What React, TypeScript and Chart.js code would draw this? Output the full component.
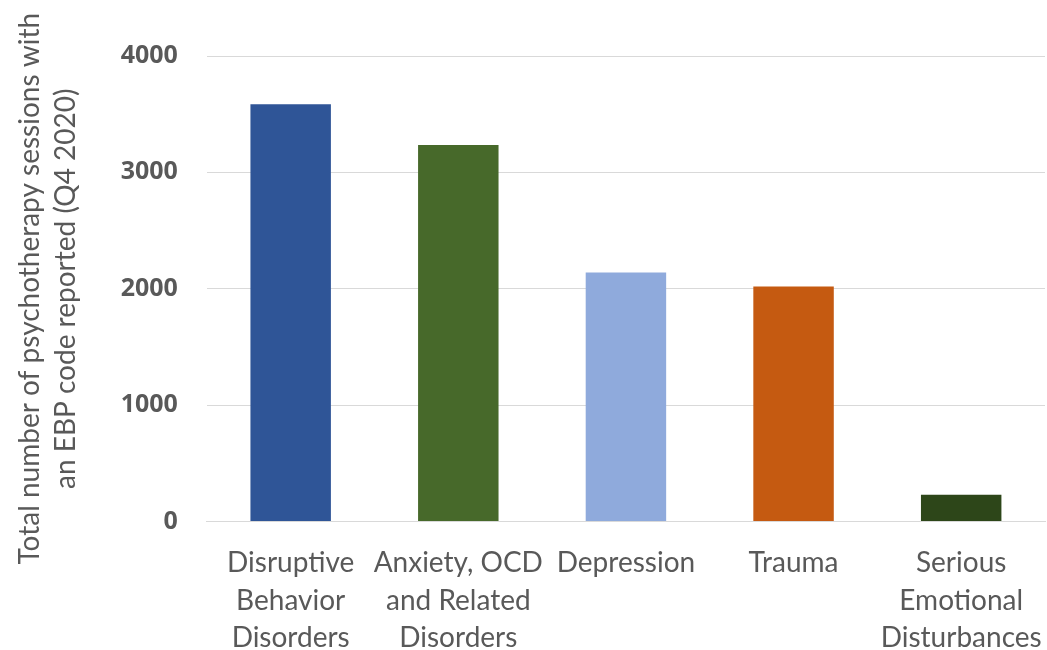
import React, { useEffect, useRef } from "react";
import { Chart, registerables } from "chart.js";

Chart.register(...registerables);

const categories: string[][] = [
  ["Disruptive", "Behavior", "Disorders"],
  ["Anxiety, OCD", "and Related", "Disorders"],
  ["Depression"],
  ["Trauma"],
  ["Serious", "Emotional", "Disturbances"],
];
const sessions: number[] = [3585, 3235, 2140, 2020, 230];
const barColors: string[] = ["#2F5597", "#47692A", "#8FAADC", "#C55A11", "#2D4619"];
const yTicks: number[] = [0, 1000, 2000, 3000, 4000];
const yTitle: string[] = ["Total number of psychotherapy sessions with", "an EBP code reported (Q4 2020)"];

export default function App() {
  const ref = useRef<HTMLCanvasElement | null>(null);
  useEffect(() => {
    document.body.style.margin = "0";
    if (!ref.current) return;
    const chart = new Chart(ref.current, {
      type: "bar",
      data: {
        labels: categories,
        datasets: [
          {
            data: sessions,
            backgroundColor: barColors,
            categoryPercentage: 1,
            barPercentage: 0.48,
          },
        ],
      },
      options: {
        responsive: false,
        animation: false,
        maintainAspectRatio: false,
        layout: { padding: { top: 56, right: 2, left: 12, bottom: -22 } },
        plugins: { legend: { display: false }, tooltip: { enabled: false } },
        scales: {
          x: {
            grid: { display: false },
            border: { color: "#D9D9D9", width: 1 },
            afterFit: (axis: any) => {
              axis.paddingRight = 0;
              axis.paddingLeft = 0;
            },
            ticks: {
              color: "#595959",
              font: { family: "Lato", size: 28, lineHeight: 1.34 },
              maxRotation: 0,
              autoSkip: false,
              padding: 15,
            },
          },
          y: {
            min: 0,
            max: 4000,
            afterBuildTicks: (axis: any) => {
              axis.ticks = yTicks.map((v) => ({ value: v }));
            },
            grid: { color: "#D9D9D9", drawTicks: false },
            border: { display: false },
            ticks: {
              color: "#595959",
              font: { family: "Open Sans", size: 25, weight: "bold" },
              padding: 29,
              callback: (v: any) => String(v),
            },
            title: {
              display: true,
              text: yTitle,
              color: "#595959",
              font: { family: "Lato", size: 28, lineHeight: 1.28 },
              padding: { top: 0, bottom: 8 },
            },
          },
        },
      },
    });
    return () => chart.destroy();
  }, []);
  return (
    <div style={{ position: "absolute", left: 0, top: 0, width: 1047, height: 650, background: "#fff" }}>
      <canvas ref={ref} width={1047} height={650} style={{ width: 1047, height: 650 }} />
    </div>
  );
}
